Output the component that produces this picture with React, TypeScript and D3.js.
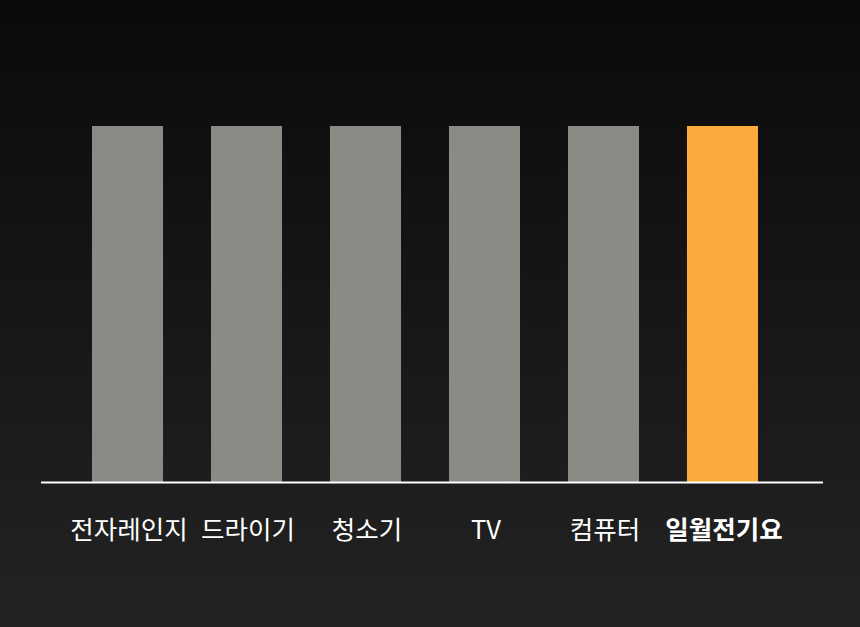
import { useEffect, useRef } from "react";
import * as d3 from "d3";

const categories = ["전자레인지", "드라이기", "청소기", "TV", "컴퓨터", "일월전기요"];
const values = [100, 100, 100, 100, 100, 100];
const highlight = "일월전기요";

const W = 860;
const H = 627;

const App = () => {
  const svgRef = useRef<SVGSVGElement>(null);

  useEffect(() => {
    if (!svgRef.current) return;
    const svg = d3.select(svgRef.current);
    svg.selectAll("*").remove();

    const grad = svg
      .append("defs")
      .append("linearGradient")
      .attr("id", "bg")
      .attr("x1", 0)
      .attr("y1", 0)
      .attr("x2", 0)
      .attr("y2", 1);
    grad.append("stop").attr("offset", "0%").attr("stop-color", "#0a0a0a");
    grad.append("stop").attr("offset", "100%").attr("stop-color", "#232323");

    svg.append("rect").attr("width", W).attr("height", H).attr("fill", "url(#bg)");

    const x = d3
      .scaleBand<string>()
      .domain(categories)
      .range([92, 758])
      .paddingInner(0.403)
      .paddingOuter(0);

    const y = d3.scaleLinear().domain([0, 100]).range([482, 126]);

    const data = categories.map((c, i) => ({ name: c, value: values[i] }));

    svg
      .selectAll("rect.bar")
      .data(data)
      .enter()
      .append("rect")
      .attr("class", "bar")
      .attr("x", (d) => x(d.name)!)
      .attr("y", (d) => y(d.value))
      .attr("width", x.bandwidth())
      .attr("height", (d) => y(0) - y(d.value))
      .attr("fill", (d) => (d.name === highlight ? "#fbab3c" : "#8b8b85"));

    svg
      .append("line")
      .attr("x1", 41)
      .attr("x2", 823)
      .attr("y1", 482.5)
      .attr("y2", 482.5)
      .attr("stroke", "#ffffff")
      .attr("stroke-width", 2);

    svg
      .selectAll("text.label")
      .data(data)
      .enter()
      .append("text")
      .attr("class", "label")
      .attr("x", (d) => x(d.name)! + x.bandwidth() / 2 + 1.5)
      .attr("y", 539)
      .attr("text-anchor", "middle")
      .attr("fill", "#ffffff")
      .attr("font-family", "'Noto Sans CJK KR', 'Noto Sans', sans-serif")
      .attr("font-size", 25.5)
      .attr("font-weight", (d) => (d.name === highlight ? 700 : 400))
      .text((d) => d.name);
  }, []);

  return (
    <svg
      ref={svgRef}
      width={W}
      height={H}
      style={{ position: "absolute", left: 0, top: 0, display: "block" }}
    />
  );
};

export default App;
